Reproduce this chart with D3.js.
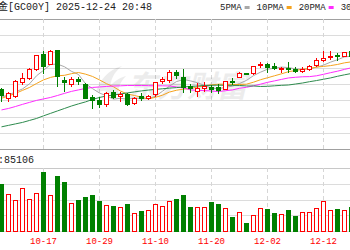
<!DOCTYPE html>
<html lang="zh">
<head>
<meta charset="UTF-8">
<title>黄金 GC00Y 日K</title>
<script src="https://d3js.org/d3.v7.min.js"></script>
<style>
    html, body {
        margin: 0;
        padding: 0;
        background: #fff;
    }
    svg { display: block; }
    .txt { font-family: "Liberation Mono", "Noto Sans CJK SC", monospace; }
</style>
</head>
<body>
<div id="chart"></div>
<script>
// trading days shown in the window
var dates = ["10-09","10-10","10-13","10-14","10-15","10-16","10-17","10-20","10-21","10-22",
             "10-23","10-24","10-27","10-28","10-29","10-30","10-31","11-03","11-04","11-05",
             "11-06","11-07","11-10","11-11","11-12","11-13","11-14","11-17","11-18","11-19",
             "11-20","11-21","11-24","11-25","11-26","11-27","11-28","12-01","12-02","12-03",
             "12-04","12-05","12-08","12-09","12-10","12-11","12-12","12-15","12-16","12-17","12-18"];

var open  = [4172,4117,4127,4215,4239,4290,4381,4324,4407,4224,4204,4229,4198,4121,4101,4077,4151,4125,4137,4083,
             4127,4115,4137,4218,4224,4273,4245,4186,4157,4178,4184,4184,4172,4218,4245,4269,4265,4318,4324,4310,
             4290,4300,4294,4279,4294,4314,4346,4364,4375,4371,4399];
var high  = [4180,4157,4229,4269,4300,4381,4405,4409,4411,4249,4249,4245,4212,4137,4127,4157,4168,4157,4148,4127,
             4148,4137,4218,4245,4290,4290,4294,4204,4209,4218,4198,4204,4224,4239,4279,4273,4314,4340,4330,4330,
             4310,4336,4310,4306,4320,4361,4407,4407,4395,4401,4411];
var low   = [4097,4097,4117,4198,4229,4285,4265,4320,4188,4157,4188,4198,4111,4050,4056,4066,4111,4097,4070,4077,
             4103,4107,4127,4203,4209,4233,4148,4151,4127,4157,4148,4143,4168,4198,4239,4259,4259,4300,4269,4290,
             4269,4273,4273,4269,4285,4306,4340,4350,4346,4367,4363];
var close = [4131,4148,4218,4239,4290,4375,4310,4401,4249,4212,4233,4217,4117,4101,4077,4148,4121,4137,4077,4117,
             4115,4127,4212,4229,4273,4253,4184,4174,4178,4188,4172,4164,4218,4212,4269,4263,4310,4324,4304,4300,
             4300,4294,4283,4294,4310,4350,4361,4371,4371,4395,4369];

var volume = [186500,145600,123000,166700,125800,149600,230200,138900,217000,191700,
              109900,120200,133700,138900,116300,102000,99200,95200,103200,70200,
              76600,83300,103200,99200,115100,125800,138900,94000,94000,94000,
              112300,105900,90100,54400,74200,30600,62300,90100,86100,70200,
              66300,79400,58300,72600,72600,90100,115100,83300,87300,83300,94000];

var ma5  = [4125,4137,4156,4174,4205,4254,4287,4323,4325,4309,4281,4262,4206,4176,4149,4132,4112,4117,4111,4120,
            4114,4115,4129,4160,4191,4219,4231,4223,4212,4195,4179,4175,4184,4191,4207,4226,4255,4276,4294,4300,
            4307,4304,4296,4294,4296,4306,4319,4337,4352,4369,4373];
var ma10 = [4117,4131,4147,4165,4183,4207,4229,4244,4254,4257,4267,4274,4264,4250,4229,4206,4187,4161,4143,4134,
            4123,4113,4123,4136,4155,4166,4173,4176,4186,4193,4199,4203,4203,4201,4201,4203,4215,4230,4242,4254,
            4266,4279,4286,4294,4298,4307,4311,4316,4323,4333,4339];
var ma20 = [4046,4055,4067,4080,4092,4104,4113,4122,4134,4147,4159,4168,4177,4183,4186,4189,4192,4193,4195,4195,
            4195,4194,4193,4193,4192,4186,4180,4168,4165,4164,4161,4158,4163,4168,4178,4184,4193,4203,4214,4223,
            4232,4241,4245,4248,4249,4254,4263,4273,4282,4293,4303];
var ma30 = [3943,3952,3961,3970,3982,3994,4010,4025,4040,4055,4070,4083,4095,4110,4122,4131,4137,4143,4150,4156,
            4162,4167,4171,4175,4179,4182,4186,4189,4192,4195,4196,4197,4196,4196,4195,4192,4192,4189,4190,4193,
            4196,4198,4204,4210,4218,4225,4233,4241,4251,4260,4268];

var dateTicks = ["10-17","10-29","11-10","11-20","12-02","12-12"];
var maNames = ["5PMA","10PMA","20PMA","30PMA"];
var maColors = ["#a8a8a8","#f5a31e","#ff2cff","#2e8b4e"];
var titleText = "黄金[GC00Y] 2025-12-24 20:48";
var volText = "总量:85106";

var W = 350, H = 250;
var mainTop = 19, mainBottom = 149;
var volTop = 168, volBottom = 231;
var red = "#ff0000", green = "#008000";

var svg = d3.select("#chart").append("svg")
    .attr("width", W)
    .attr("height", H);

var x = d3.scaleBand()
    .domain(dates)
    .range([-2, -2 + 7 * dates.length]);
function cx(d) { return x(d) + x.bandwidth() / 2; }

var y = d3.scaleLinear()
    .domain([3808, 4600])
    .range([mainBottom, mainTop]);

var vy = d3.scaleLinear()
    .domain([0, 250000])
    .range([volBottom, volTop]);

// ---- grid ----
var grid = svg.append("g").attr("shape-rendering", "crispEdges");

d3.range(0, 9).forEach(function(k) {
    var gy = Math.round(mainTop + k * (mainBottom - mainTop) / 8) + 0.5;
    grid.append("line")
        .attr("x1", 0).attr("x2", W)
        .attr("y1", gy).attr("y2", gy)
        .attr("stroke", (k === 0 || k === 8) ? "#a0a0a0" : "#dcdcdc");
});
d3.range(0, 5).forEach(function(k) {
    var gy = Math.round(volTop + k * (volBottom - volTop) / 4) + 0.5;
    grid.append("line")
        .attr("x1", 0).attr("x2", W)
        .attr("y1", gy).attr("y2", gy)
        .attr("stroke", k === 0 ? "#c8c8c8" : "#dcdcdc");
});

dateTicks.forEach(function(d) {
    [[mainTop, mainBottom], [volTop, volBottom]].forEach(function(r) {
        grid.append("line")
            .attr("x1", cx(d)).attr("x2", cx(d))
            .attr("y1", r[0]).attr("y2", r[1])
            .attr("stroke", "#d6d6d6")
            .attr("stroke-dasharray", "4,3");
    });
});

// ---- watermark ----
var wm = svg.append("g").attr("fill", "#000").attr("opacity", 0.07);
wm.append("path")
    .attr("d", "M96,92 C100,80 108,70 122,66 C114,72 110,80 110,90 Z M104,94 C110,84 118,78 126,76 C120,82 118,88 118,94 Z");
wm.append("text")
    .attr("x", 127)
    .attr("y", 97)
    .attr("font-family", "Noto Sans CJK SC")
    .attr("font-weight", "bold")
    .attr("font-style", "italic")
    .attr("font-size", 30)
    .text("东方财富");

// ---- moving averages ----
[ma5, ma10, ma20, ma30].forEach(function(series, k) {
    var line = d3.line()
        .x(function(d, i) { return cx(dates[i]); })
        .y(function(d) { return y(d); });
    svg.append("path")
        .datum(series)
        .attr("fill", "none")
        .attr("stroke", maColors[k])
        .attr("stroke-width", 1)
        .attr("d", line);
});

// ---- candles ----
var candles = svg.append("g").selectAll("g")
    .data(dates)
    .enter().append("g")
    .attr("shape-rendering", "crispEdges");

candles.append("line")
    .attr("x1", function(d) { return cx(d); })
    .attr("x2", function(d) { return cx(d); })
    .attr("y1", function(d, i) { return y(high[i]); })
    .attr("y2", function(d, i) { return y(low[i]); })
    .attr("stroke", function(d, i) { return close[i] >= open[i] ? red : green; });

candles.append("rect")
    .attr("x", function(d) { return cx(d) - 2; })
    .attr("width", 4)
    .attr("y", function(d, i) { return y(Math.max(open[i], close[i])); })
    .attr("height", function(d, i) { return Math.max(1, Math.abs(y(open[i]) - y(close[i]))); })
    .attr("fill", function(d, i) { return close[i] >= open[i] ? "#fff" : green; })
    .attr("stroke", function(d, i) { return close[i] >= open[i] ? red : green; });

// ---- volume ----
svg.append("g").selectAll("rect")
    .data(volume)
    .enter().append("rect")
    .attr("shape-rendering", "crispEdges")
    .attr("x", function(d, i) { return cx(dates[i]) - 2; })
    .attr("width", 4)
    .attr("y", function(d) { return vy(d); })
    .attr("height", function(d) { return volBottom - vy(d); })
    .attr("fill", function(d, i) { return close[i] >= open[i] ? "#fff" : green; })
    .attr("stroke", function(d, i) { return close[i] >= open[i] ? red : green; });

// ---- texts ----
svg.append("text")
    .attr("class", "txt")
    .attr("x", -12)
    .attr("y", 10)
    .attr("font-size", 10)
    .attr("fill", "#222")
    .text(titleText);

var lx = 220;
maNames.forEach(function(name, k) {
    var t = svg.append("text")
        .attr("class", "txt")
        .attr("x", lx)
        .attr("y", 10)
        .attr("font-size", 9)
        .attr("fill", "#222")
        .text(name);
    var w = t.node().getComputedTextLength();
    svg.append("rect")
        .attr("x", lx + w + 3)
        .attr("y", 6)
        .attr("width", 5)
        .attr("height", 3)
        .attr("fill", maColors[k]);
    lx += w + 3 + 5 + 7;
});

svg.append("text")
    .attr("class", "txt")
    .attr("x", 34)
    .attr("y", 163)
    .attr("text-anchor", "end")
    .attr("font-size", 10)
    .attr("fill", "#222")
    .text(volText);

svg.append("g").selectAll("text")
    .data(dateTicks)
    .enter().append("text")
    .attr("class", "txt")
    .attr("x", function(d) { return cx(d); })
    .attr("y", 244)
    .attr("text-anchor", "middle")
    .attr("font-size", 9)
    .attr("fill", red)
    .text(function(d) { return d; });
</script>
</body>
</html>
